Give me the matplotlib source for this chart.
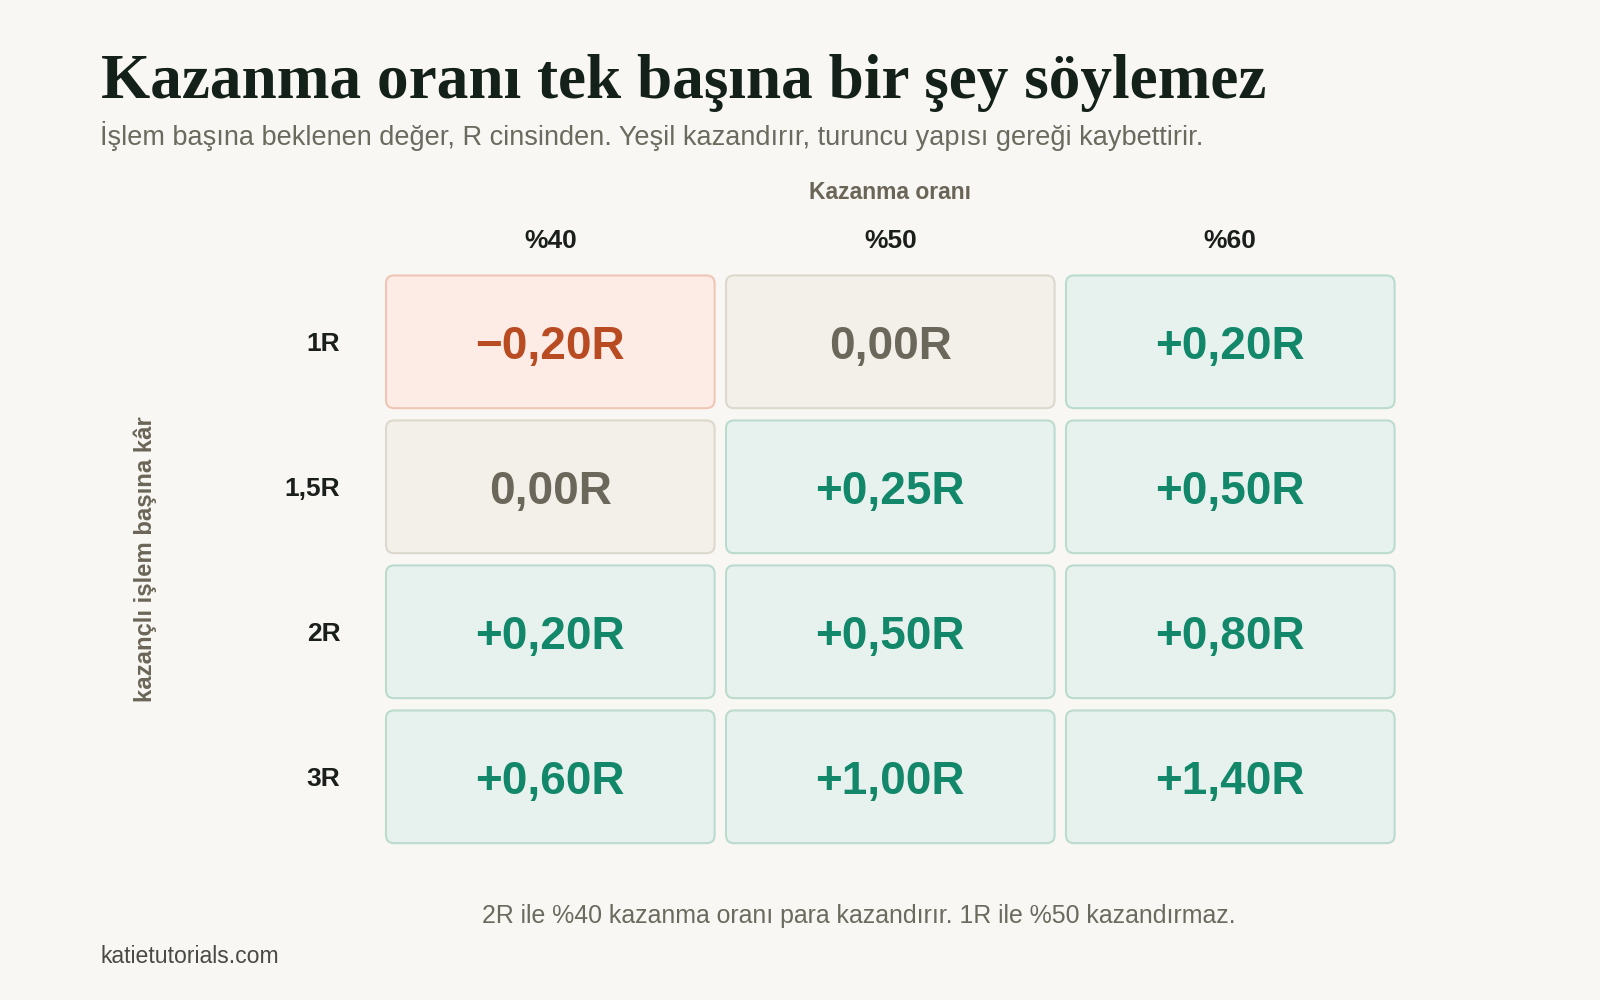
import matplotlib
matplotlib.use('Agg')
import matplotlib.pyplot as plt
from matplotlib.patches import FancyBboxPatch

# data
win_rates = ['%40', '%50', '%60']
rewards = ['1R', '1,5R', '2R', '3R']
ev = [[-0.20, 0.00, 0.20],
      [0.00, 0.25, 0.50],
      [0.20, 0.50, 0.80],
      [0.60, 1.00, 1.40]]

title = 'Kazanma oranı tek başına bir şey söylemez'
subtitle = 'İşlem başına beklenen değer, R cinsinden. Yeşil kazandırır, turuncu yapısı gereği kaybettirir.'
col_title = 'Kazanma oranı'
row_title = 'kazançlı işlem başına kâr'
note = '2R ile %40 kazanma oranı para kazandırır. 1R ile %50 kazandırmaz.'
source = 'katietutorials.com'

bg_col = '#f8f7f3'
styles = {
    'neg': ('#fdece5', '#efc6b6', '#b94b22'),
    'zero': ('#f3f0ea', '#ddd8cd', '#6b675b'),
    'pos': ('#e7f2ee', '#bcdbcf', '#12876a'),
}

def fmt(v):
    s = f'{abs(v):.2f}'.replace('.', ',') + 'R'
    if v > 0:
        return '+' + s
    if v < 0:
        return '\u2212' + s
    return s

sans = ['Liberation Sans', 'DejaVu Sans']
serif = ['Liberation Serif', 'DejaVu Serif']

W, H = 1600, 1000
fig = plt.figure(figsize=(16, 10), dpi=100, facecolor=bg_col)

# background axes in pixel units for the free text
bg = fig.add_axes([0, 0, 1, 1])
bg.set_xlim(0, W)
bg.set_ylim(H, 0)
bg.axis('off')
bg.patch.set_alpha(0)

bg.text(101, 98, title, family=serif, fontweight='bold', fontsize=45.5,
        color='#14201a', va='baseline', ha='left')
bg.text(100, 145, subtitle, family=sans, fontsize=19.5, color='#6b6a5e',
        va='baseline', ha='left')
bg.text(890, 199, col_title, family=sans, fontsize=16.5, fontweight='bold',
        color='#6b6558', va='baseline', ha='center')
bg.text(145, 559, row_title, family=sans, fontsize=17.2, fontweight='bold',
        color='#6b6558', rotation=90, va='center', ha='center')
bg.text(859, 923, note, family=sans, fontsize=17.9, color='#6b6a5e',
        va='baseline', ha='center')
bg.text(100, 963, source, family=sans, fontsize=16.6, color='#4a4a44',
        va='baseline', ha='left')

# grid axes: one unit per cell
gx0, gx1 = 380.3, 1400.3
gy0, gy1 = 269.3, 849.3
ax = fig.add_axes([gx0 / W, 1 - gy1 / H, (gx1 - gx0) / W, (gy1 - gy0) / H])
ax.set_xlim(-0.5, len(win_rates) - 0.5)
ax.set_ylim(len(rewards) - 0.5, -0.5)
ax.axis('off')
ax.patch.set_alpha(0)

px_x = (gx1 - gx0) / len(win_rates)
px_y = (gy1 - gy0) / len(rewards)
cw = 328.6 / px_x
ch = 132.7 / px_y
cap = 17 / px_y

for r, row in enumerate(ev):
    for c, v in enumerate(row):
        key = 'neg' if v < 0 else ('zero' if v == 0 else 'pos')
        fc, ec, tc = styles[key]
        box = FancyBboxPatch((c - cw / 2, r - ch / 2), cw, ch,
                             boxstyle='round,pad=0,rounding_size=%.4f' % (8 / px_x),
                             mutation_aspect=px_x / px_y,
                             facecolor=fc, edgecolor=ec, linewidth=1.5)
        ax.add_patch(box)
        ax.text(c, r + cap, fmt(v), family=sans, fontweight='bold',
                fontsize=33, color=tc, ha='center', va='baseline')

for c, lab in enumerate(win_rates):
    ax.text(c, -0.5 - 28 / px_y, lab, family=sans, fontweight='bold',
            fontsize=19, color='#1a1f1c', ha='center', va='center')
for r, lab in enumerate(rewards):
    ax.text(-0.5 - 40 / px_x, r + 2 / px_y, lab, family=sans, fontweight='bold',
            fontsize=19, color='#1a1f1c', ha='right', va='center')

fig.savefig('out.png', dpi=100, facecolor=bg_col)
